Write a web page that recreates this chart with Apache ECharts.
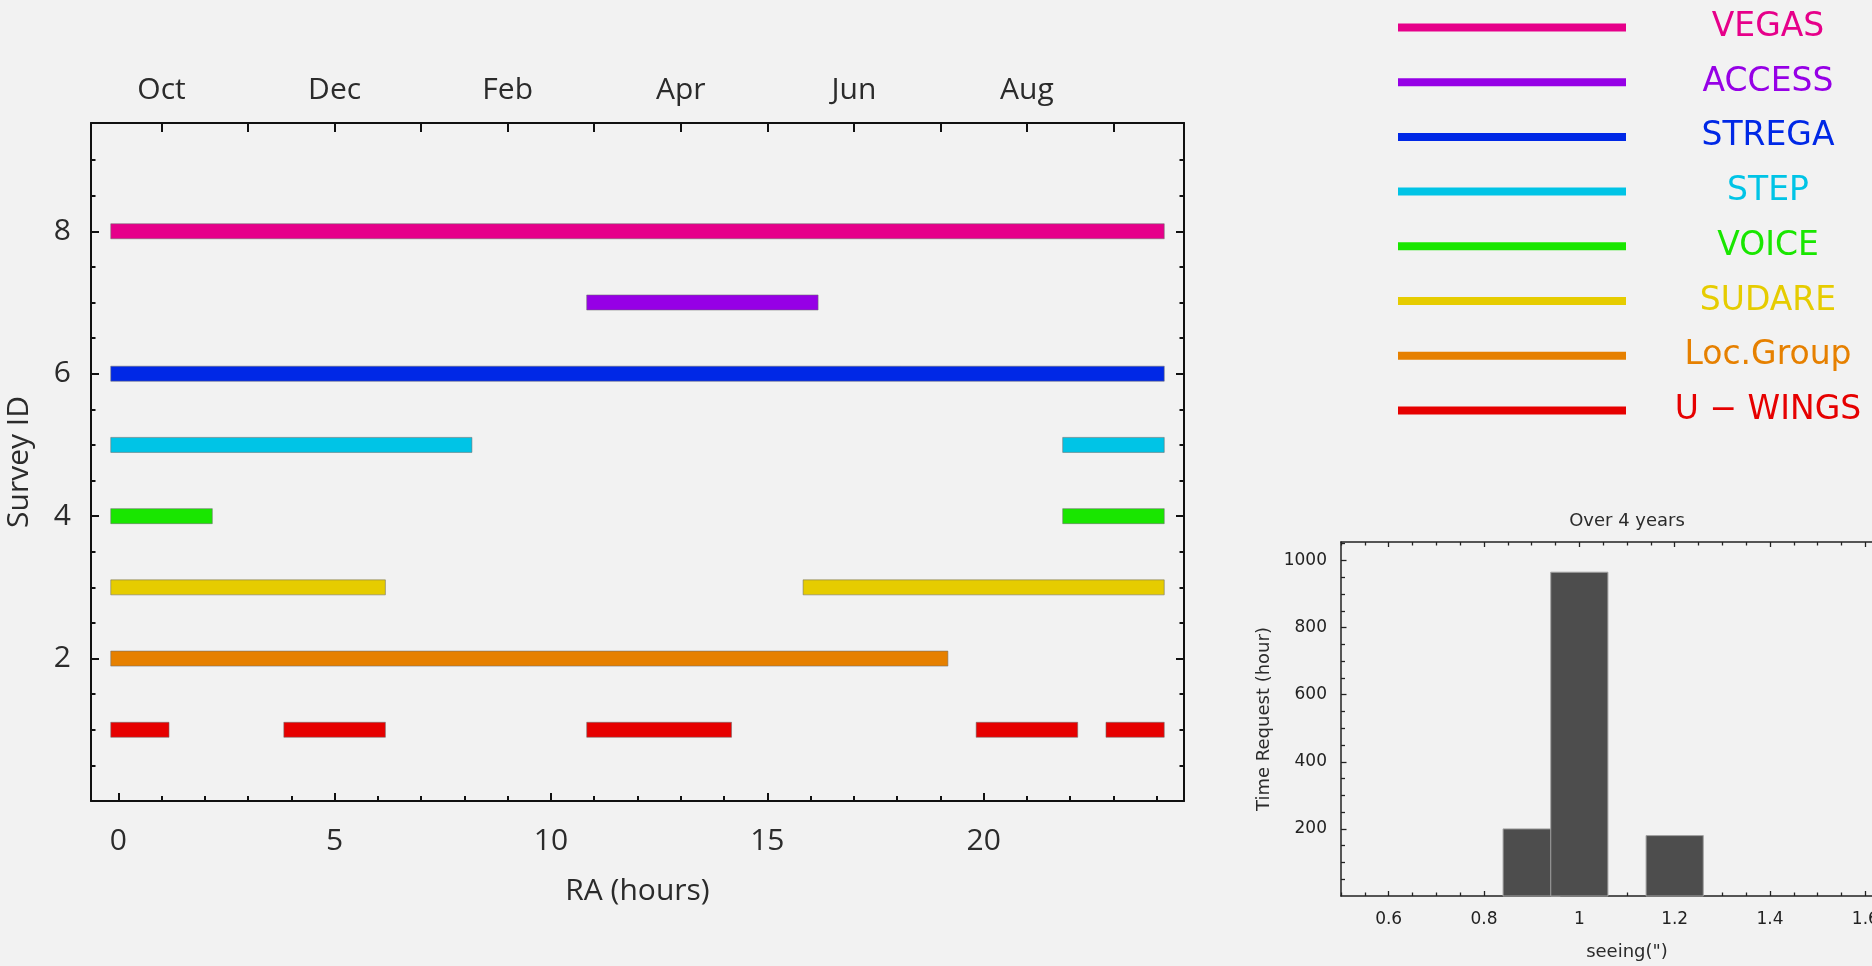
<!DOCTYPE html>
<html>
<head>
<meta charset="utf-8">
<script src="https://cdn.jsdelivr.net/npm/echarts@6/dist/echarts.min.js"></script>
<style>
  html, body { margin: 0; padding: 0; background: #f2f2f2; }
  #chart { width: 1872px; height: 966px; }
</style>
</head>
<body>
<div id="chart"></div>
<script>
// RA windows (hours) covered by each survey
const vegasRA    = [[0, 24]];
const accessRA   = [[11, 16]];
const stregaRA   = [[0, 24]];
const stepRA     = [[0, 8], [22, 24]];
const voiceRA    = [[0, 2], [22, 24]];
const sudareRA   = [[0, 6], [16, 24]];
const locGroupRA = [[0, 19]];
const uwingsRA   = [[0, 1], [4, 6], [11, 14], [20, 22], [23, 24]];

const surveyNames   = ['VEGAS', 'ACCESS', 'STREGA', 'STEP', 'VOICE', 'SUDARE', 'Loc.Group', 'U − WINGS'];
const surveyIds     = [8, 7, 6, 5, 4, 3, 2, 1];
const surveyWindows = [vegasRA, accessRA, stregaRA, stepRA, voiceRA, sudareRA, locGroupRA, uwingsRA];
const surveyColors  = ['#e6008a', '#9600e6', '#0028e6', '#00c4e6', '#19e600', '#e6cc00', '#e68000', '#e60000'];

// axis ticks of the survey panel
const raTicks    = [0, 5, 10, 15, 20];
const monthHours = [1, 5, 9, 13, 17, 21];
const monthNames = ['Oct', 'Dec', 'Feb', 'Apr', 'Jun', 'Aug'];
const idTicks    = [2, 4, 6, 8];

// seeing histogram (bar centre, requested hours)
const seeingBins     = [0.9, 1.0, 1.2];
const seeingHours    = [200, 965, 180];
const seeingBinWidth = 0.12;
const seeingTicks    = [0.6, 0.8, 1, 1.2, 1.4, 1.6];
const hourTicks      = [200, 400, 600, 800, 1000];

function steps(from, to, step, skip) {
  const out = [];
  for (let v = from; v <= to + 1e-9; v += step) {
    const r = Math.round(v * 1000) / 1000;
    if (!skip.some(s => Math.abs(s - r) < 1e-9)) out.push(r);
  }
  return out;
}
const raMinor     = steps(0, 24, 1, raTicks);
const monthTicks  = steps(1, 23, 2, []);
const idMinor     = steps(0.5, 9, 0.5, idTicks);
const seeingMinor = steps(0.5, 1.7, 0.05, seeingTicks);
const hourMinor   = steps(50, 1050, 50, hourTicks);

const MAIN_FONT = 'Open Sans';
const SMALL_FONT = 'DejaVu Sans';
const INK = '#111';
const LABEL = '#2b2b2b';

function axis(o) {
  return Object.assign({
    type: 'value', silent: true,
    splitLine: { show: false },
    axisLine: { show: false },
    axisTick: { show: false },
    axisLabel: { show: false }
  }, o);
}
function line(width, color) {
  return { show: true, onZero: false, lineStyle: { color: color || INK, width: width } };
}
function ticks(values, length, width, color) {
  return { show: true, inside: true, length: length, customValues: values,
           lineStyle: { color: color || INK, width: width } };
}
function noLine() { return { show: false, onZero: false }; }
const plain = v => String(v);

const RA_MIN = -0.63, RA_MAX = 24.63, ID_MAX = 9.52;
const SEE_MIN = 0.5, SEE_MAX = 1.7, HOUR_MAX = 1055;

const xAxes = [
  axis({ gridIndex: 0, position: 'bottom', min: RA_MIN, max: RA_MAX,
    axisLine: line(2), axisTick: ticks(raTicks, 8, 2),
    axisLabel: { show: true, customValues: raTicks, margin: 25,
      fontFamily: MAIN_FONT, fontSize: 30, color: LABEL },
    name: 'RA (hours)', nameLocation: 'middle', nameGap: 75,
    nameTextStyle: { fontFamily: MAIN_FONT, fontSize: 30, color: LABEL } }),
  axis({ gridIndex: 0, position: 'bottom', min: RA_MIN, max: RA_MAX,
    axisLine: noLine(), axisTick: ticks(raMinor, 5, 2) }),
  axis({ gridIndex: 0, position: 'top', min: RA_MIN, max: RA_MAX,
    axisLine: line(2), axisTick: ticks(monthTicks, 9, 2),
    axisLabel: { show: true, customValues: monthHours, margin: 17.5,
      fontFamily: MAIN_FONT, fontSize: 30, color: LABEL,
      formatter: v => monthNames[monthHours.indexOf(v)] } }),
  axis({ gridIndex: 1, position: 'bottom', min: SEE_MIN, max: SEE_MAX,
    axisLine: line(1.5, '#222'), axisTick: ticks(seeingTicks, 5, 1.3, '#222'),
    axisLabel: { show: true, customValues: seeingTicks, margin: 15, formatter: plain,
      fontFamily: SMALL_FONT, fontSize: 17, color: '#222' },
    name: 'seeing(")', nameLocation: 'middle', nameGap: 47.5,
    nameTextStyle: { fontFamily: SMALL_FONT, fontSize: 18, color: LABEL } }),
  axis({ gridIndex: 1, position: 'bottom', min: SEE_MIN, max: SEE_MAX,
    axisLine: noLine(), axisTick: ticks(seeingMinor, 3.5, 1.3, '#222') }),
  axis({ gridIndex: 1, position: 'top', min: SEE_MIN, max: SEE_MAX,
    axisLine: line(1.5, '#222'), axisTick: ticks(seeingTicks, 5, 1.3, '#222') }),
  axis({ gridIndex: 1, position: 'top', min: SEE_MIN, max: SEE_MAX,
    axisLine: noLine(), axisTick: ticks(seeingMinor, 3.5, 1.3, '#222') })
];

const yAxes = [
  axis({ gridIndex: 0, position: 'left', min: 0, max: ID_MAX,
    axisLine: line(2), axisTick: ticks(idTicks, 8, 2),
    axisLabel: { show: true, customValues: idTicks, margin: 20,
      fontFamily: MAIN_FONT, fontSize: 30, color: LABEL },
    name: 'Survey ID', nameLocation: 'middle', nameGap: 57,
    nameTextStyle: { fontFamily: MAIN_FONT, fontSize: 30, color: LABEL } }),
  axis({ gridIndex: 0, position: 'left', min: 0, max: ID_MAX,
    axisLine: noLine(), axisTick: ticks(idMinor, 4.5, 2) }),
  axis({ gridIndex: 0, position: 'right', min: 0, max: ID_MAX,
    axisLine: line(2), axisTick: ticks(idTicks, 8, 2) }),
  axis({ gridIndex: 0, position: 'right', min: 0, max: ID_MAX,
    axisLine: noLine(), axisTick: ticks(idMinor, 4.5, 2) }),
  axis({ gridIndex: 1, position: 'left', min: 0, max: HOUR_MAX,
    axisLine: line(1.5, '#222'), axisTick: ticks(hourTicks, 5.5, 1.3, '#222'),
    axisLabel: { show: true, customValues: hourTicks, margin: 14, formatter: plain,
      fontFamily: SMALL_FONT, fontSize: 17, color: '#222' },
    name: 'Time Request (hour)', nameLocation: 'middle', nameGap: 68,
    nameTextStyle: { fontFamily: SMALL_FONT, fontSize: 18, color: LABEL } }),
  axis({ gridIndex: 1, position: 'left', min: 0, max: HOUR_MAX,
    axisLine: noLine(), axisTick: ticks(hourMinor, 4, 1.3, '#222') })
];

// one custom series per survey: thick bars with square caps
const BAR_H = 15;
const surveySeries = surveyNames.map((name, i) => ({
  type: 'custom',
  name: name,
  xAxisIndex: 0, yAxisIndex: 0,
  itemStyle: { color: surveyColors[i] },
  encode: { x: [0, 1], y: 2 },
  data: surveyWindows[i].map(w => [w[0], w[1], surveyIds[i]]),
  renderItem: function (params, api) {
    const a = api.coord([api.value(0), api.value(2)]);
    const b = api.coord([api.value(1), api.value(2)]);
    const cap = BAR_H / 2;
    return {
      type: 'rect',
      shape: { x: a[0] - cap, y: a[1] - BAR_H / 2, width: b[0] - a[0] + 2 * cap, height: BAR_H },
      style: { fill: api.visual('color'), stroke: 'rgba(110,110,110,0.55)', lineWidth: 1 }
    };
  }
}));

const histogramSeries = {
  type: 'custom',
  name: 'seeing',
  xAxisIndex: 3, yAxisIndex: 4,
  encode: { x: 0, y: 1 },
  data: seeingBins.map((b, i) => [b, seeingHours[i]]),
  renderItem: function (params, api) {
    const tl = api.coord([api.value(0) - seeingBinWidth / 2, api.value(1)]);
    const br = api.coord([api.value(0) + seeingBinWidth / 2, 0]);
    return {
      type: 'rect',
      shape: { x: tl[0], y: tl[1], width: br[0] - tl[0], height: br[1] - tl[1] },
      style: { fill: '#4d4d4d', stroke: '#a3a3a3', lineWidth: 1 }
    };
  }
};

const legendRich = {};
surveyColors.forEach((c, i) => {
  legendRich['c' + i] = { width: 274, align: 'center', color: c,
    fontFamily: SMALL_FONT, fontSize: 33 };
});

const chart = echarts.init(document.getElementById('chart'), null, { renderer: 'canvas' });
chart.setOption({
  backgroundColor: '#f2f2f2',
  animation: false,
  title: {
    text: 'Over 4 years', left: 1627, top: 512, textAlign: 'center', padding: 0,
    textStyle: { fontFamily: SMALL_FONT, fontSize: 18, fontWeight: 'normal', color: LABEL }
  },
  legend: {
    data: surveyNames, orient: 'vertical', left: 1398, top: 11, padding: 0,
    itemWidth: 228, itemHeight: 8, itemGap: 21.7, icon: 'rect', selectedMode: false,
    formatter: name => '{c' + surveyNames.indexOf(name) + '|' + name + '}',
    textStyle: { rich: legendRich }
  },
  grid: [
    { left: 91, top: 123, width: 1093, height: 678, outerBoundsMode: 'none', containLabel: false },
    { left: 1341, top: 542, width: 572, height: 354, outerBoundsMode: 'none', containLabel: false }
  ],
  xAxis: xAxes,
  yAxis: yAxes,
  series: surveySeries.concat([histogramSeries])
});
</script>
</body>
</html>
